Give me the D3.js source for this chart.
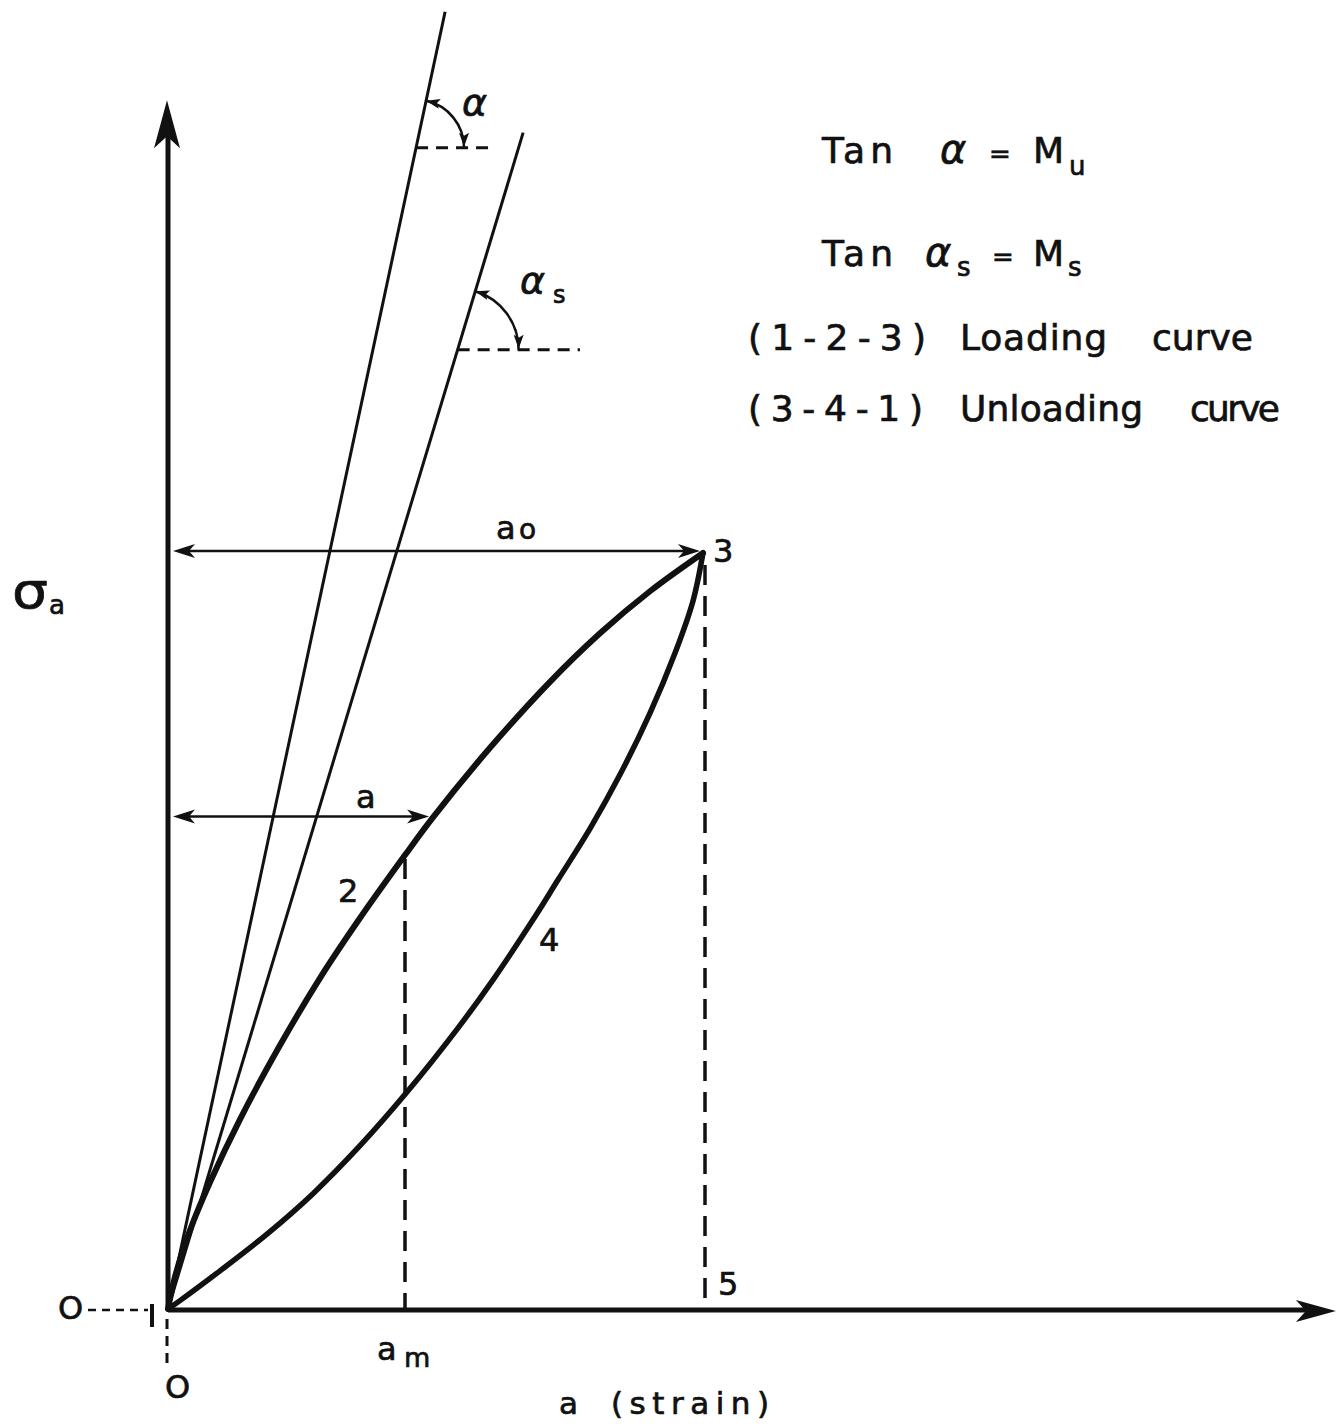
<!DOCTYPE html>
<html>
<head>
<meta charset="utf-8">
<script src="https://cdn.jsdelivr.net/npm/d3@7"></script>
<style>
  body { margin: 0; background: #fff; }
  text { font-family: "DejaVu Sans", sans-serif; fill: #111; stroke: #111; stroke-width: 0.7px; }
</style>
</head>
<body>
<script>
// Hysteresis loop of stress σa against strain a.
// Strain is normalised by a0 (strain at point 3), stress by the stress at point 3.

// loading curve 1-2-3
const loadingStrain = [0, 0.0131, 0.0411, 0.0785, 0.1346, 0.2093, 0.2841, 0.3589, 0.4430, 0.4935, 0.6019, 0.7140, 0.8075, 0.9009, 1];
const loadingStress = [0, 0.0426, 0.1041, 0.1676, 0.2509, 0.3488, 0.4377, 0.5171, 0.6004, 0.6487, 0.7423, 0.8296, 0.8938, 0.9494, 1];

// unloading curve 3-4-1
const unloadingStrain = [1, 0.9813, 0.9477, 0.9009, 0.8449, 0.7888, 0.7290, 0.6822, 0.6075, 0.5458, 0.4467, 0.3589, 0.2710, 0.1850, 0.0972, 0.0224, 0];
const unloadingStress = [1, 0.9366, 0.8676, 0.7882, 0.7069, 0.6354, 0.5677, 0.5148, 0.4354, 0.3752, 0.2869, 0.2160, 0.1526, 0.0991, 0.0505, 0.0111, 0];

// straight lines through the origin: tan α = Mu, tan αs = Ms
const moduli = [3.313, 2.344];              // Mu, Ms
const modulusLineTop = [1.716, 1.556];      // stress where each line stops
const angleRefStress = [1.536, 1.269];      // stress of the horizontal reference for α, αs
const angleRefEnd = [0.611, 0.770];         // strain where the reference dash ends

// marked points
const strainA0 = 1, stressA0 = 1;           // point 3
const strainAm = 0.443, stressAm = 0.6004;  // point 2
const strainA = 0.4935, stressA = 0.6487;   // strain a on the loading curve
const point4 = [0.6393, 0.468];

const strainMax = 2.183, stressMax = 1.599;

const loading = loadingStrain.map((s, i) => [s, loadingStress[i]]);
const unloading = unloadingStrain.map((s, i) => [s, unloadingStress[i]]);

const W = 1336, H = 1426, ink = "#111";
const svg = d3.select("body").append("svg").attr("width", W).attr("height", H);

const x = d3.scaleLinear().domain([0, 1]).range([168, 703]);
const y = d3.scaleLinear().domain([0, 1]).range([1309, 553]);

const curve = d3.line().x(d => x(d[0])).y(d => y(d[1])).curve(d3.curveCatmullRom.alpha(0.5));

// filled arrowhead with a notched back
function head(tx, ty, ux, uy, len, half, notch) {
  const px = -uy, py = ux;
  const bx = tx - len * ux, by = ty - len * uy;
  const pts = [[tx, ty], [bx + half * px, by + half * py], [tx - (len - notch) * ux, ty - (len - notch) * uy], [bx - half * px, by - half * py]];
  svg.append("path").attr("d", "M" + pts.map(p => p.join(",")).join("L") + "Z").attr("fill", ink);
}

function seg(x1, y1, x2, y2, w, dash) {
  const l = svg.append("line").attr("x1", x1).attr("y1", y1).attr("x2", x2).attr("y2", y2)
    .attr("stroke", ink).attr("stroke-width", w);
  if (dash) l.attr("stroke-dasharray", dash);
  return l;
}

// axes
seg(x(0), y(0), x(0), y(stressMax) + 30, 5);
head(x(0) - 1, y(stressMax), 0, -1, 48, 13, 12);
seg(x(0), y(0) + 1, x(strainMax) - 25, y(0) + 1, 5);
head(x(strainMax), y(0) + 2, 1, 0, 40, 11, 10);

// lines of slope Mu and Ms
moduli.forEach((m, i) => {
  seg(x(0), y(0), x(modulusLineTop[i] / m), y(modulusLineTop[i]), 3);
});

// horizontal reference dashes and angle arcs
const arcRadius = [48, 61];
moduli.forEach((m, i) => {
  const s = angleRefStress[i];
  const cx = x(s / m), cy = y(s);
  seg(cx, cy, x(angleRefEnd[i]), cy, 3, "12,8");
  const dx = x(1 / m) - x(0), dy = y(1) - y(0);
  const n = Math.hypot(dx, dy), ux = dx / n, uy = dy / n;
  const r = arcRadius[i];
  const sx = cx + r * ux, sy = cy + r * uy, ex = cx + r, ey = cy;
  svg.append("path").attr("d", `M${sx},${sy}A${r},${r} 0 0 1 ${ex},${ey}`)
    .attr("fill", "none").attr("stroke", ink).attr("stroke-width", 2.5);
  // arrowhead at the reference line (pointing down) and at the sloped line
  head(ex, ey - 1, 0, 1, 14, 5, 3);
  const ang = Math.atan2(uy, ux);
  head(sx, sy, Math.sin(ang), -Math.cos(ang), 14, 5, 3);
});

// loading and unloading curves
svg.append("path").attr("d", curve(loading)).attr("fill", "none").attr("stroke", ink).attr("stroke-width", 6).attr("stroke-linecap", "round");
svg.append("path").attr("d", curve(unloading)).attr("fill", "none").attr("stroke", ink).attr("stroke-width", 5.5).attr("stroke-linecap", "round");

// vertical dashed projections of points 2 and 3
seg(x(strainAm), y(stressAm) + 4, x(strainAm), y(0), 3.5, "20,11");
seg(x(strainA0) + 2, y(stressA0) + 12, x(strainA0) + 2, y(0), 3.5, "20,11");

// dimension arrows a0 and a
function dimArrow(s, st) {
  const x1 = x(0) + 5, x2 = x(s) - 3, yy = y(st) - 2;
  seg(x1 + 10, yy, x2 - 10, yy, 2.5);
  head(x1, yy, -1, 0, 22, 7, 6);
  head(x2, yy, 1, 0, 22, 7, 6);
}
dimArrow(strainA0, stressA0);
dimArrow(strainA, stressA);

// origin marks
seg(88, y(0) + 1, 148, y(0) + 1, 2.5, "8,6");
seg(152, y(0) - 5, 152, y(0) + 18, 4);
seg(x(0) - 1, y(0) + 10, x(0) - 1, y(0) + 56, 3, "10,7");

function label(tx, ty, str, size, opts = {}) {
  const t = svg.append("text").attr("x", tx).attr("y", ty).attr("font-size", size).text(str);
  if (opts.italic) t.attr("font-style", "italic");
  if (opts.len) t.attr("textLength", opts.len).attr("lengthAdjust", opts.adjust || "spacing");
  return t;
}

label(58, y(0) + 10, "O", 32);
label(165, y(0) + 89, "O", 32);

// point numbers
label(x(strainAm) - 67, y(stressAm) + 47, "2", 32);
label(x(strainA0) + 10, y(stressA0) + 9, "3", 32);
label(x(point4[0]) + 29, y(point4[1]) - 4, "4", 32);
label(x(strainA0) + 15, y(0) - 14, "5", 32);

// dimension labels
label(496, y(stressA0) - 14, "a", 32);
label(519, y(stressA0) - 14, "o", 28);
label(356, y(stressA) - 11, "a", 32);
label(377, y(0) + 51, "a", 32);
label(404, y(0) + 58, "m", 27);

// axis titles
label(12, 608, "σ", 50, { len: 36, adjust: "spacingAndGlyphs" });
label(49, 614, "a", 26);
label(559, 1414, "a", 31);
label(611, 1414, "(strain)", 31, { len: 158 });

// angle labels
label(462, 115, "α", 38, { italic: true });
label(520, 293, "α", 38, { italic: true });
label(553, 303, "s", 24);

// legend
label(822, 163, "Tan", 36, { len: 71 });
label(940, 163, "α", 40, { italic: true });
label(989, 163, "=", 26);
label(1033, 163, "M", 36, { len: 35 });
label(1069, 175, "u", 26);

label(822, 266, "Tan", 36, { len: 71 });
label(925, 266, "α", 40, { italic: true });
label(957, 276, "s", 26);
label(992, 266, "=", 26);
label(1033, 266, "M", 36, { len: 35 });
label(1068, 276, "s", 26);

label(748, 350, "(1-2-3)", 36, { len: 178 });
label(960, 350, "Loading", 36, { len: 147 });
label(1152, 350, "curve", 36, { len: 101 });

label(748, 421, "(3-4-1)", 36, { len: 175 });
label(960, 421, "Unloading", 36, { len: 183 });
label(1190, 421, "curve", 36, { len: 90 });
</script>
</body>
</html>
